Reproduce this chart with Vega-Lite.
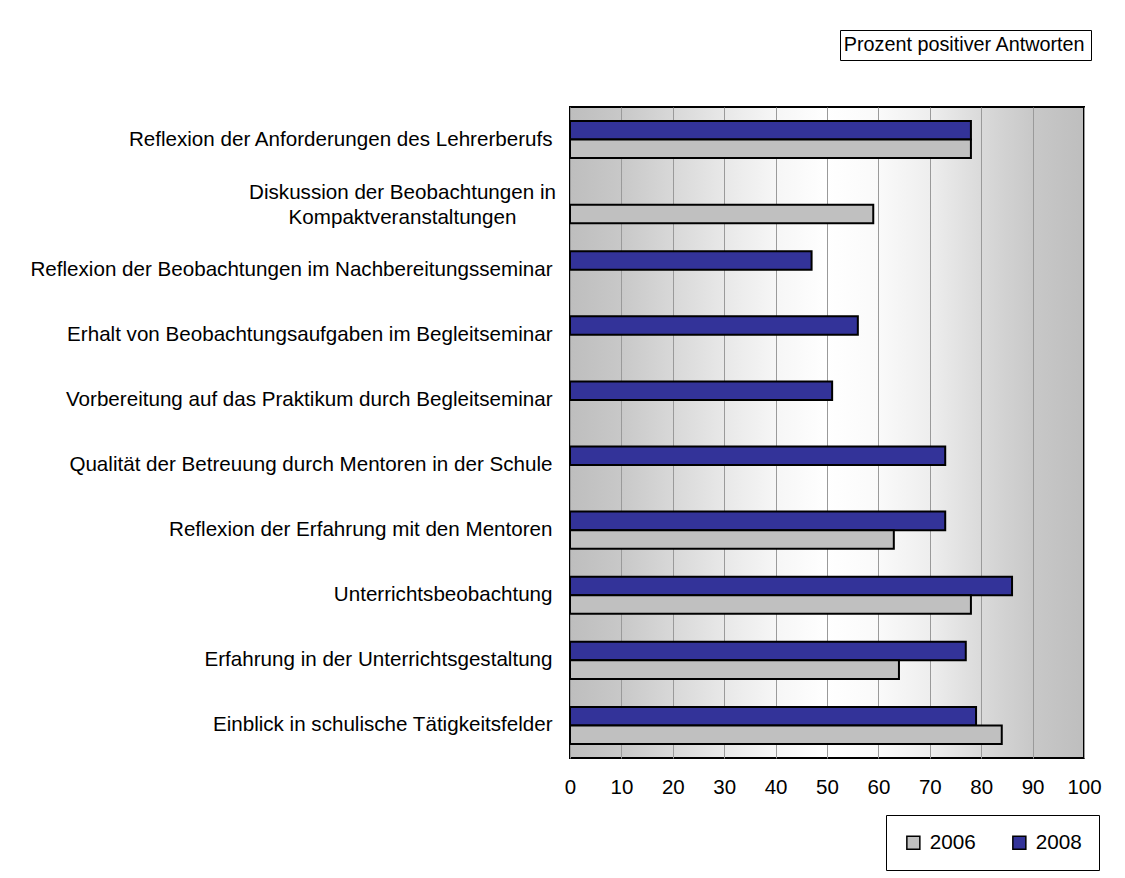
{
  "$schema": "https://vega.github.io/schema/vega-lite/v6.json",
  "width": 514,
  "height": 651,
  "autosize": {"type": "none"},
  "padding": {"left": 570, "top": 107, "right": 41, "bottom": 120},
  "background": "white",
  "view": {
    "fill": {
      "gradient": "linear", "x1": 0, "x2": 1, "y1": 0, "y2": 0,
      "stops": [
        {"offset": 0, "color": "#bebebe"},
        {"offset": 0.1, "color": "#c8c8c8"},
        {"offset": 0.2, "color": "#d8d8d8"},
        {"offset": 0.3, "color": "#e8e8e8"},
        {"offset": 0.4, "color": "#f6f6f6"},
        {"offset": 0.5, "color": "#ffffff"},
        {"offset": 0.6, "color": "#fafafa"},
        {"offset": 0.7, "color": "#eeeeee"},
        {"offset": 0.8, "color": "#dadada"},
        {"offset": 0.9, "color": "#c8c8c8"},
        {"offset": 1, "color": "#bebebe"}
      ]
    },
    "stroke": "black",
    "strokeWidth": 2
  },
  "config": {
    "font": "Liberation Sans",
    "axis": {"labelFont": "Liberation Sans", "labelColor": "black"},
    "legend": {"labelFont": "Liberation Sans", "labelColor": "black"}
  },
  "data": {
    "values": [
      {"Item": "Reflexion der Anforderungen des Lehrerberufs", "Jahr": "2008", "Prozent": 78},
      {"Item": "Reflexion der Anforderungen des Lehrerberufs", "Jahr": "2006", "Prozent": 78},
      {"Item": "Diskussion der Beobachtungen in Kompaktveranstaltungen", "Jahr": "2006", "Prozent": 59},
      {"Item": "Reflexion der Beobachtungen im Nachbereitungsseminar", "Jahr": "2008", "Prozent": 47},
      {"Item": "Erhalt von Beobachtungsaufgaben im Begleitseminar", "Jahr": "2008", "Prozent": 56},
      {"Item": "Vorbereitung auf das Praktikum durch Begleitseminar", "Jahr": "2008", "Prozent": 51},
      {"Item": "Qualität der Betreuung durch Mentoren in der Schule", "Jahr": "2008", "Prozent": 73},
      {"Item": "Reflexion der Erfahrung mit den Mentoren", "Jahr": "2008", "Prozent": 73},
      {"Item": "Reflexion der Erfahrung mit den Mentoren", "Jahr": "2006", "Prozent": 63},
      {"Item": "Unterrichtsbeobachtung", "Jahr": "2008", "Prozent": 86},
      {"Item": "Unterrichtsbeobachtung", "Jahr": "2006", "Prozent": 78},
      {"Item": "Erfahrung in der Unterrichtsgestaltung", "Jahr": "2008", "Prozent": 77},
      {"Item": "Erfahrung in der Unterrichtsgestaltung", "Jahr": "2006", "Prozent": 64},
      {"Item": "Einblick in schulische Tätigkeitsfelder", "Jahr": "2008", "Prozent": 79},
      {"Item": "Einblick in schulische Tätigkeitsfelder", "Jahr": "2006", "Prozent": 84}
    ]
  },
  "layer": [
    {
      "mark": {"type": "bar", "stroke": "black", "strokeWidth": 2},
      "encoding": {
        "y": {
          "field": "Item", "type": "nominal", "sort": null, "title": null,
          "scale": {"paddingInner": 0.43, "paddingOuter": 0.215},
          "axis": {
            "ticks": false, "domain": false, "grid": false,
            "labelFontSize": 20.6, "labelLimit": 0,
            "labelLineHeight": 25,
            "labelAlign": {"condition": {"test": "indexof(datum.value, 'Diskussion') == 0", "value": "center"}, "value": "right"},
            "labelPadding": {"condition": {"test": "indexof(datum.value, 'Diskussion') == 0", "value": 168}, "value": 18},
            "labelOffset": {"condition": {"test": "indexof(datum.value, 'Diskussion') == 0", "value": -11.5}, "value": 0},
            "labelExpr": "datum.value == 'Diskussion der Beobachtungen in Kompaktveranstaltungen' ? ['Diskussion der Beobachtungen in', 'Kompaktveranstaltungen'] : datum.value"
          }
        },
        "yOffset": {
          "field": "Jahr", "type": "nominal", "sort": ["2008", "2006"],
          "scale": {"paddingInner": 0, "paddingOuter": 0}
        },
        "x": {
          "field": "Prozent", "type": "quantitative", "title": null,
          "scale": {"domain": [0, 100], "nice": false},
          "axis": {
            "values": [0, 10, 20, 30, 40, 50, 60, 70, 80, 90, 100],
            "ticks": false, "domain": false, "grid": true,
            "gridColor": "#9a9a9a", "gridWidth": 1, "gridOpacity": 1,
            "labelFontSize": 20.5, "labelPadding": 19, "labelFlush": false
          }
        },
        "color": {
          "field": "Jahr", "type": "nominal",
          "scale": {"domain": ["2006", "2008"], "range": ["#c0c0c0", "#333399"]},
          "legend": {
            "title": null, "orient": "none", "legendX": 316, "legendY": 708,
            "direction": "horizontal", "strokeColor": "black", "fillColor": "white",
            "padding": 17, "symbolType": "square", "symbolSize": 169,
            "symbolStrokeColor": "black", "symbolStrokeWidth": 1.5, "symbolOpacity": 1,
            "labelFontSize": 20.7, "labelOffset": 6, "columnPadding": 33
          }
        }
      }
    },
    {
      "mark": {"type": "rule", "opacity": 0},
      "encoding": {
        "x": {"datum": 0},
        "strokeDash": {
          "datum": "Prozent positiver Antworten", "type": "nominal",
          "scale": {"range": [[1, 0]]},
          "legend": {
            "title": null, "orient": "none", "legendX": 270, "legendY": -77,
            "strokeColor": "black", "fillColor": "white", "padding": 5,
            "symbolType": "circle", "symbolSize": 0, "symbolStrokeWidth": 0, "symbolOpacity": 0,
            "labelOffset": -21, "labelFontSize": 19.8, "labelLimit": 0
          }
        }
      }
    }
  ]
}
